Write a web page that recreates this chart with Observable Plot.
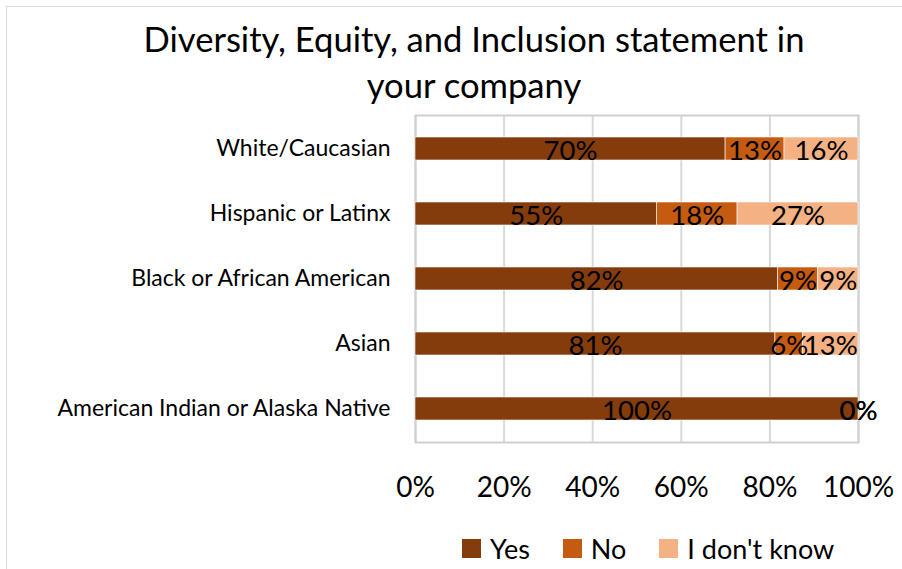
<!DOCTYPE html>
<html>
<head>
<meta charset="utf-8">
<script src="https://cdn.jsdelivr.net/npm/d3@7"></script>
<script src="https://cdn.jsdelivr.net/npm/@observablehq/plot@0.6"></script>
<style>
  html, body { margin: 0; padding: 0; background: #fff; overflow: hidden; }
  #wrap { position: relative; width: 902px; height: 569px; font-family: Lato, "Open Sans", sans-serif; color: #000; }
  #border { position: absolute; left: 6px; top: 6px; width: 1000px; height: 1000px; border-top: 1.5px solid #d9d9d9; border-left: 1.5px solid #d9d9d9; }
  #title { position: relative; height: 108px; box-sizing: border-box; padding-top: 16px; padding-left: 46px; text-align: center; font-size: 34.6px; line-height: 46px; font-weight: 400; }
  #chart { position: relative; height: 412px; }
  #legend { position: relative; height: 49px; }
  #legend > div { position: absolute; left: 462px; top: 12px; margin: 0 !important; }
  .lg-swatch { margin-right: 33px !important; }
  .lg-swatch > svg { margin-right: 9px !important; }
</style>
</head>
<body>
<div id="wrap">
  <div id="border"></div>
  <div id="title">Diversity, Equity, and Inclusion statement in<br>your company</div>
  <div id="chart"></div>
  <div id="legend"></div>
</div>
<script>
const categories = ["White/Caucasian", "Hispanic or Latinx", "Black or African American", "Asian", "American Indian or Alaska Native"];
const series = ["Yes", "No", "I don't know"];
const colors = ["#843C0C", "#C55A11", "#F4B183"];
// bar lengths (share of respondents, %)
const yesValues = [70.0, 54.5, 81.8, 81.25, 100];
const noValues = [13.3, 18.2, 9.1, 6.25, 0];
const idkValues = [16.7, 27.3, 9.1, 12.5, 0];
// data labels as printed on the chart
const yesLabels = ["70%", "55%", "82%", "81%", "100%"];
const noLabels = ["13%", "18%", "9%", "6%", "0%"];
const idkLabels = ["16%", "27%", "9%", "13%", "0%"];
const xTicks = [0, 20, 40, 60, 80, 100];

const valueSets = [yesValues, noValues, idkValues];
const labelSets = [yesLabels, noLabels, idkLabels];
const data = [];
categories.forEach((c, i) => {
  series.forEach((s, j) => {
    data.push({category: c, series: s, value: valueSets[j][i], label: labelSets[j][i]});
  });
});

const chart = Plot.plot({
  width: 902,
  height: 412,
  marginTop: 7,
  marginBottom: 78,
  marginLeft: 415,
  marginRight: 44,
  style: {fontFamily: 'Lato, "Open Sans", sans-serif', color: "#000", background: "transparent", overflow: "visible"},
  x: {domain: [0, 100], ticks: xTicks, tickFormat: d => d + "%", label: null},
  y: {domain: categories, paddingInner: 0.65, paddingOuter: 0.325, label: null},
  color: {domain: series, range: colors},
  marks: [
    Plot.gridX(xTicks, {stroke: "#d9d9d9", strokeOpacity: 1, strokeWidth: 2}),
    Plot.frame({stroke: "#d0d0d0", strokeWidth: 2}),
    Plot.barX(data, Plot.stackX({x: "value", y: "category", fill: "series", z: "series", stroke: "#ffffff", strokeWidth: 0.6})),
    Plot.text(data, Plot.stackX({x: "value", y: "category", z: "series", text: "label", fill: "#000", fontSize: 27.5, dy: 2})),
    Plot.axisX(xTicks, {tickSize: 0, tickPadding: 35, fontSize: 28, tickFormat: d => d + "%", label: null}),
    Plot.axisY({tickSize: 0, tickPadding: 25, fontSize: 23, label: null})
  ]
});
document.getElementById("chart").appendChild(chart);

const legend = Plot.legend({
  color: {domain: series, range: colors},
  legend: "swatches",
  swatchSize: 19,
  className: "lg",
  style: {fontFamily: 'Lato, "Open Sans", sans-serif', fontSize: "27px", color: "#000"}
});
document.getElementById("legend").appendChild(legend);
</script>
</body>
</html>
